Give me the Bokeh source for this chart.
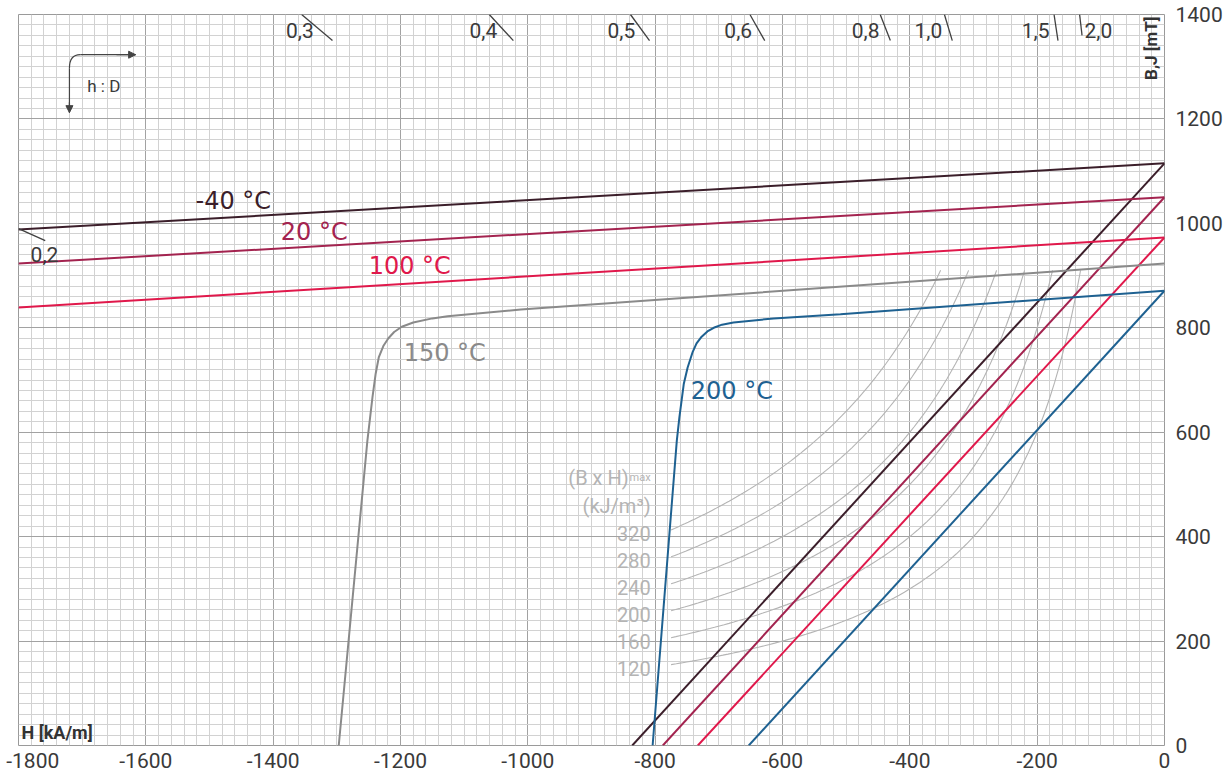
import numpy as np
from bokeh.plotting import figure
from bokeh.models import SingleIntervalTicker, Range1d, Arrow, NormalHead
from bokeh.embed import file_html
from bokeh.resources import INLINE
from bokeh.core.properties import value

# ---------------- data (H in kA/m, B/J in mT) ----------------
x_ticks = [-1800, -1600, -1400, -1200, -1000, -800, -600, -400, -200, 0]
x_tick_labels = ["-1800", "-1600", "-1400", "-1200", "-1000", "-800", "-600", "-400", "-200", "0"]
y_ticks = [0, 200, 400, 600, 800, 1000, 1200, 1400]
y_tick_labels = ["0", "200", "400", "600", "800", "1000", "1200", "1400"]

temp_labels = ["-40 °C", "20 °C", "100 °C", "150 °C", "200 °C"]

# intrinsic J(H) curves
j_m40_h = [-1800, 0]
j_m40_b = [988, 1115]
j_20_h = [-1800, 0]
j_20_b = [923, 1050]
j_100_h = [-1800, 0]
j_100_b = [839, 973]
j_150_h = [-1297, -1252, -1244, -1239, -1234, -1227, -1219, -1210, -1198, -1180, -1150, -1126, -1011, 0]
j_150_b = [0, 584, 667, 712, 744, 765, 780, 792, 802, 810, 818, 822, 835, 923]
j_200_h = [-804, -766, -762, -755, -749, -741, -735, -727, -718, -708, -695, -677, -614, -509, 0]
j_200_b = [0, 584, 628, 693, 724, 754, 770, 783, 793, 800, 806, 810, 818, 826, 871]

# normal B(H) lines: remanence and coercivity (for -40, 20, 100, 200 °C)
b_line_br = [1115, 1050, 973, 871]
b_line_hc = [-836, -788, -733, -653]

# (B x H)max iso-energy curves, kJ/m3
bh_values = [120, 160, 200, 240, 280, 320]
bh_h_start = -775
bh_b_end = 910

# h:D load lines (slope B/|H| in mT per kA/m)
hd_labels = ["0,2", "0,3", "0,4", "0,5", "0,6", "0,8", "1,0", "1,5", "2,0"]
hd_slopes = [0.55, 1.033, 1.32, 1.669, 2.15, 3.135, 4.05, 8.07, 10.5]

# ---------------- styles ----------------
c_m40 = "#3b1e2a"
c_20 = "#a3234f"
c_100 = "#e0184b"
c_150 = "#8a8a8a"
c_200 = "#1e6191"
c_bh = "#b4b4b4"
c_txt = "#3a3a3a"
NARROW = "Roboto"
WIDE = "DejaVu Sans"

p = figure(width=1228, height=776, x_range=Range1d(-1800, 0), y_range=Range1d(0, 1400),
           output_backend="svg", toolbar_location=None, y_axis_location="right",
           min_border_left=18, min_border_right=64, min_border_top=14, min_border_bottom=31)
p.background_fill_color = "white"
p.border_fill_color = "white"
p.outline_line_color = "#9a9a9a"
p.outline_line_width = 1

for ax, ticks, labs in ((p.xaxis, x_ticks, x_tick_labels), (p.yaxis, y_ticks, y_tick_labels)):
    ax.ticker = SingleIntervalTicker(interval=200, num_minor_ticks=10)
    ax.axis_line_color = None
    ax.major_tick_line_color = None
    ax.minor_tick_line_color = None
    ax.major_tick_out = 0
    ax.minor_tick_out = 0
    ax.major_label_text_font = NARROW
    ax.major_label_text_font_size = "21px"
    ax.major_label_text_color = c_txt
    ax.major_label_overrides = dict(zip(ticks, labs))
p.xaxis.major_label_overrides = {**dict(zip(x_ticks, x_tick_labels)),
                                 -1800: "\u2008" + x_tick_labels[0]}
p.xaxis.major_label_standoff = 3
p.yaxis.major_label_standoff = 11

for g in (p.xgrid, p.ygrid):
    g.grid_line_color = "#a2a2a2"
    g.grid_line_width = 1
    g.minor_grid_line_color = "#d2d2d2"
    g.minor_grid_line_width = 1

# (B x H)max curves
for bh in bh_values:
    h = np.linspace(bh_h_start, -bh * 1000.0 / bh_b_end, 80)
    p.line(h, bh * 1000.0 / -h, line_color=c_bh, line_width=1.1)
p.text(x=[-807] * len(bh_values), y=[bh * 1000.0 / -bh_h_start for bh in bh_values],
       text=[str(v) for v in bh_values], text_align="right", text_baseline="middle",
       y_offset=4, text_color=c_bh, text_font=value(NARROW), text_font_size="20px")
p.text(x=[-807], y=[513], text=["(B x H)"], x_offset=-22, text_align="right",
       text_baseline="alphabetic", text_color=c_bh, text_font=value(NARROW), text_font_size="20px")
p.text(x=[-807], y=[513], text=["max"], text_align="right",
       text_baseline="alphabetic", text_color=c_bh, text_font=value(NARROW), text_font_size="11px")
p.text(x=[-807], y=[458], text=["(kJ/m³)"], text_align="right",
       text_baseline="middle", text_color=c_bh, text_font=value(NARROW), text_font_size="20px")

# normal B lines
for br, hc, col in zip(b_line_br, b_line_hc, [c_m40, c_20, c_100, c_200]):
    p.line([hc, 0], [0, br], line_color=col, line_width=2)

# intrinsic J curves
p.line(j_150_h, j_150_b, line_color=c_150, line_width=2)
p.line(j_200_h, j_200_b, line_color=c_200, line_width=2)
p.line(j_100_h, j_100_b, line_color=c_100, line_width=2)
p.line(j_20_h, j_20_b, line_color=c_20, line_width=2)
p.line(j_m40_h, j_m40_b, line_color=c_m40, line_width=2)

# temperature labels
lab_x = [-1522, -1388, -1250, -1195, -744]
lab_y = [1042, 984, 919, 751, 678]
lab_c = [c_m40, c_20, c_100, c_150, c_200]
for t, x, y, c in zip(temp_labels, lab_x, lab_y, lab_c):
    p.text(x=[x], y=[y], text=[t.replace(" ", "\u00a0")], text_align="left",
           text_baseline="middle", text_color=c, text_font=value(WIDE), text_font_size="24px")

# h:D load line ticks
top_k = hd_slopes[1:]
top_lab = hd_labels[1:]
b_top = [1400] * len(top_k)
b_bot = [1350, 1350, 1350, 1350, 1350, 1350, 1350, 1360, 1360]
p.segment(x0=[-b / k for b, k in zip(b_top, top_k)], y0=b_top,
          x1=[-b / k for b, k in zip(b_bot, top_k)], y1=b_bot,
          line_color="#404040", line_width=1.3)
p.text(x=[-1369 / k for k in top_k[:-1]], y=[1369] * (len(top_k) - 1), text=top_lab[:-1],
       x_offset=-7, text_align="right", text_baseline="middle", text_color=c_txt,
       text_font=value(NARROW), text_font_size="21px")
p.text(x=[-1369 / top_k[-1]], y=[1369], text=[top_lab[-1]], x_offset=3, text_align="left",
       text_baseline="middle", text_color=c_txt, text_font=value(NARROW), text_font_size="21px")
k02 = hd_slopes[0]
p.segment(x0=[-1800], y0=[1800 * k02], x1=[-1758], y1=[1758 * k02], line_color="#404040", line_width=1.3)
p.text(x=[-1781], y=[940], text=[hd_labels[0]], text_align="left", text_baseline="middle",
       text_color=c_txt, text_font=value(NARROW), text_font_size="21px")

# h : D arrow sketch
arr_x = [-1720, -1703, -1616]
arr_y = [1212, 1297, 1323]
p.line([arr_x[0], arr_x[0]], [arr_y[0], arr_y[1]], line_color="#444444", line_width=1.2)
p.quadratic(x0=[arr_x[0]], y0=[arr_y[1]], x1=[arr_x[1]], y1=[arr_y[2]], cx=[arr_x[0]], cy=[arr_y[2]],
            line_color="#444444", line_width=1.2)
p.line([arr_x[1], arr_x[2]], [arr_y[2], arr_y[2]], line_color="#444444", line_width=1.2)
p.add_layout(Arrow(end=NormalHead(size=7, fill_color="#444444", line_color="#444444"),
                   x_start=arr_x[0], y_start=arr_y[0] + 20, x_end=arr_x[0], y_end=arr_y[0],
                   line_color="#444444", line_width=1.2))
p.add_layout(Arrow(end=NormalHead(size=7, fill_color="#444444", line_color="#444444"),
                   x_start=arr_x[2] - 30, y_start=arr_y[2], x_end=arr_x[2], y_end=arr_y[2],
                   line_color="#444444", line_width=1.2))
p.text(x=[-1692], y=[1264], text=["h : D"], text_align="left", text_baseline="middle",
       text_color=c_txt, text_font=value(NARROW), text_font_size="17px")

# axis titles inside the frame
p.text(x=[-1800], y=[0], text=["H [kA/m]"], x_offset=3, y_offset=-3, text_align="left",
       text_baseline="bottom", text_color="#333333", text_font=value(NARROW),
       text_font_style="bold", text_font_size="18px")
p.text(x=[0], y=[1400], text=["B,J [mT]"], x_offset=-4, y_offset=2, angle=np.pi / 2,
       text_align="right", text_baseline="bottom", text_color="#333333", text_font=value(NARROW),
       text_font_style="bold", text_font_size="17px")

open("out.html", "w").write(file_html(p, INLINE))
